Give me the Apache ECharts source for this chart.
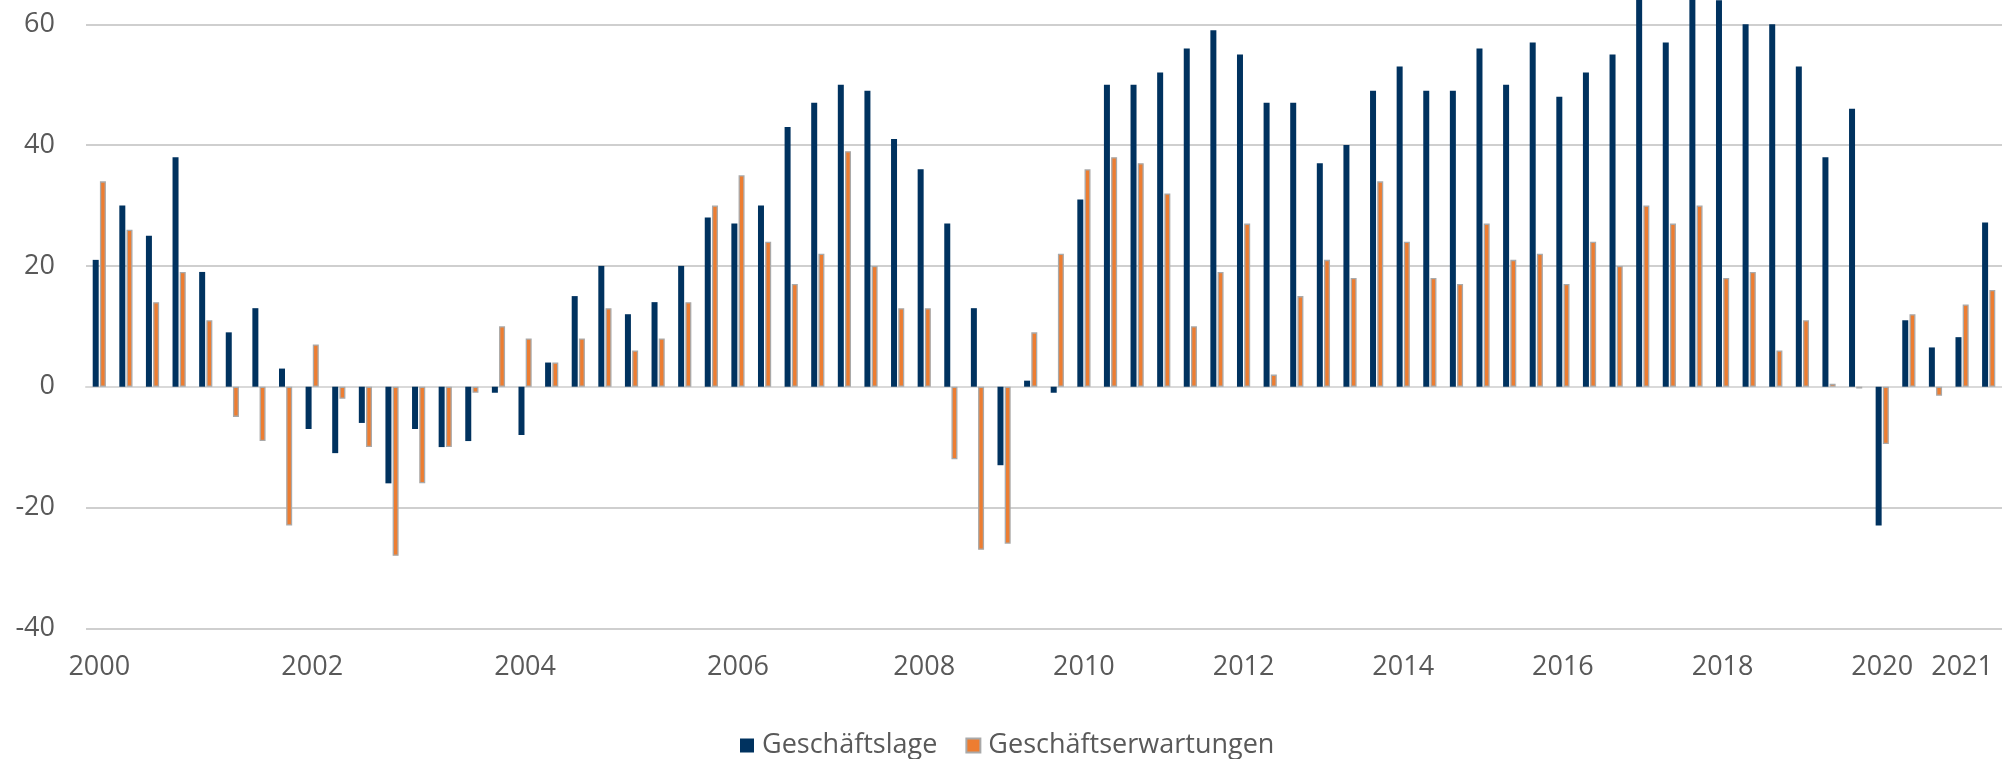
<!DOCTYPE html>
<html>
<head>
<meta charset="utf-8">
<title>Geschäftslage und Geschäftserwartungen</title>
<script src="https://cdn.jsdelivr.net/npm/echarts@6/dist/echarts.min.js"></script>
<style>
  html, body { margin: 0; padding: 0; background: #fff; }
  #main { width: 2002px; height: 759px; }
</style>
</head>
<body>
<div id="main"></div>
<script>
// Umfragezeitpunkte: bis 2006 vier pro Jahr, danach drei
const periods = [
  '2000-1', '2000-2', '2000-3', '2000-4',
  '2001-1', '2001-2', '2001-3', '2001-4',
  '2002-1', '2002-2', '2002-3', '2002-4',
  '2003-1', '2003-2', '2003-3', '2003-4',
  '2004-1', '2004-2', '2004-3', '2004-4',
  '2005-1', '2005-2', '2005-3', '2005-4',
  '2006-1', '2006-2', '2006-3', '2006-4',
  '2007-1', '2007-2', '2007-3',
  '2008-1', '2008-2', '2008-3',
  '2009-1', '2009-2', '2009-3',
  '2010-1', '2010-2', '2010-3',
  '2011-1', '2011-2', '2011-3',
  '2012-1', '2012-2', '2012-3',
  '2013-1', '2013-2', '2013-3',
  '2014-1', '2014-2', '2014-3',
  '2015-1', '2015-2', '2015-3',
  '2016-1', '2016-2', '2016-3',
  '2017-1', '2017-2', '2017-3',
  '2018-1', '2018-2', '2018-3',
  '2019-1', '2019-2', '2019-3',
  '2020-1', '2020-2', '2020-3',
  '2021-1', '2021-2'
];

// nur diese Jahre werden an der x-Achse beschriftet
const yearLabels = ['2000', '2002', '2004', '2006', '2008', '2010', '2012',
  '2014', '2016', '2018', '2020', '2021'];

const yTicks = [-40, -20, 0, 20, 40, 60];

const geschaeftslage = [
  21, 30, 25, 38, 19, 9, 13, 3, -7, -11,
  -6, -16, -7, -10, -9, -1, -8, 4, 15, 20,
  12, 14, 20, 28, 27, 30, 43, 47, 50, 49,
  41, 36, 27, 13, -13, 1, -1, 31, 50, 50,
  52, 56, 59, 55, 47, 47, 37, 40, 49, 53,
  49, 49, 56, 50, 57, 48, 52, 55, 66, 57,
  66, 64, 60, 60, 53, 38, 46, -23, 11, 6.5,
  8.2, 27.2
];

const geschaeftserwartungen = [
  34, 26, 14, 19, 11, -5, -9, -23, 7, -2,
  -10, -28, -16, -10, -1, 10, 8, 4, 8, 13,
  6, 8, 14, 30, 35, 24, 17, 22, 39, 20,
  13, 13, -12, -27, -26, 9, 22, 36, 38, 37,
  32, 10, 19, 27, 2, 15, 21, 18, 34, 24,
  18, 17, 27, 21, 22, 17, 24, 20, 30, 27,
  30, 18, 19, 6, 11, 0.5, -0.3, -9.5, 12, -1.5,
  13.6, 16
];

var myChart = echarts.init(document.getElementById('main'));

const font = '"Open Sans", "Noto Sans", sans-serif';

var option = {
  animation: false,
  backgroundColor: '#fff',
  textStyle: { fontFamily: font },
  grid: { left: 86, right: -4, top: 24.3, bottom: 130.7 },
  legend: {
    left: 735,
    top: 727,
    itemWidth: 14,
    itemHeight: 14,
    itemGap: 28,
    icon: 'rect',
    textStyle: { fontFamily: font, fontSize: 27, color: '#595959', padding: [0, 0, 0, 3] },
    data: ['Geschäftslage', 'Geschäftserwartungen']
  },
  xAxis: {
    type: 'category',
    data: periods,
    axisLine: { lineStyle: { color: '#d9d9d9', width: 2 } },
    axisTick: { show: false },
    axisLabel: {
      interval: 0,
      margin: 26,
      fontSize: 27,
      color: '#595959',
      fontFamily: font,
      formatter: function (value) {
        var parts = value.split('-');
        if (parts[1] === '1' && yearLabels.indexOf(parts[0]) >= 0) return parts[0];
        return '';
      }
    }
  },
  yAxis: {
    type: 'value',
    min: yTicks[0],
    max: yTicks[yTicks.length - 1],
    interval: 20,
    axisLine: { show: false },
    axisTick: { show: false },
    axisLabel: { margin: 31, fontSize: 27, color: '#595959', fontFamily: font },
    splitLine: { lineStyle: { color: '#bfbfbf', width: 1.5 } }
  },
  series: [
    {
      name: 'Geschäftslage',
      type: 'bar',
      clip: false,
      barWidth: 6,
      barGap: '20%',
      itemStyle: { color: '#00325f' },
      data: geschaeftslage
    },
    {
      name: 'Geschäftserwartungen',
      type: 'bar',
      clip: false,
      barWidth: 6,
      itemStyle: { color: '#ed7d31', borderColor: '#a9a9a9', borderWidth: 1.3 },
      data: geschaeftserwartungen
    }
  ]
};

myChart.setOption(option);
</script>
</body>
</html>
